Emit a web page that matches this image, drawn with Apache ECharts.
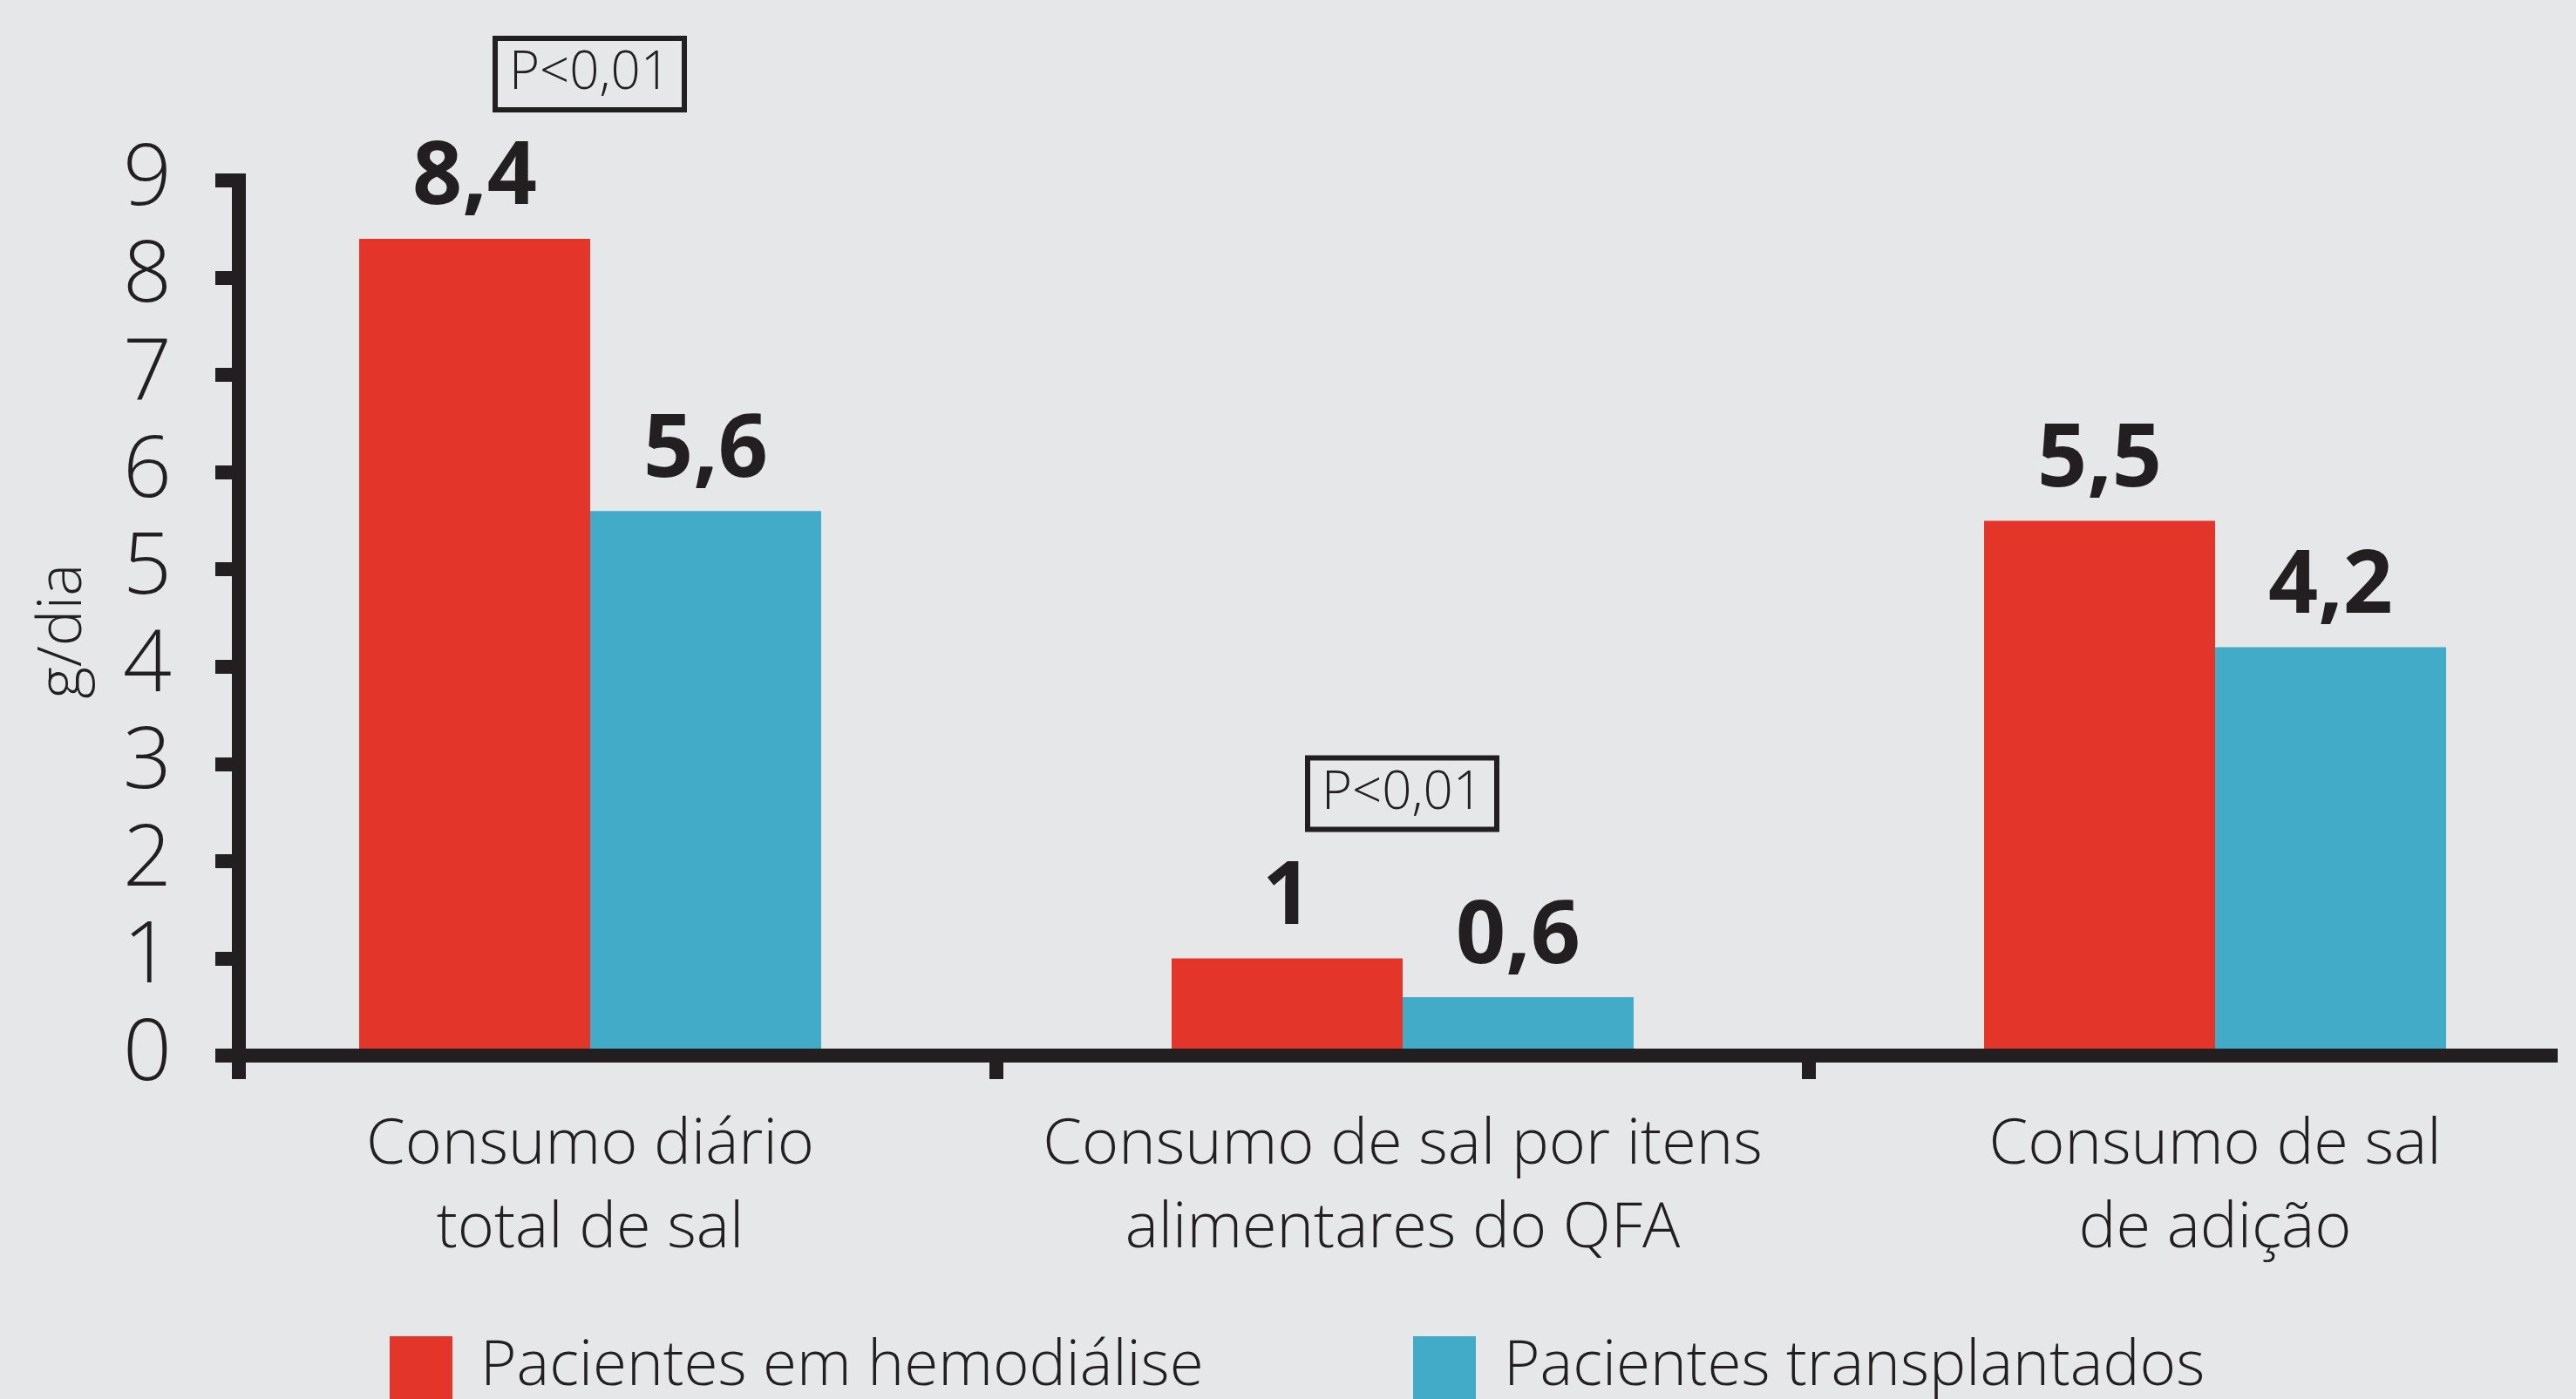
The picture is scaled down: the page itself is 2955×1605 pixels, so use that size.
<!DOCTYPE html>
<html>
<head>
<meta charset="utf-8">
<script src="https://cdn.jsdelivr.net/npm/echarts@6/dist/echarts.min.js"></script>
<style>
html, body { margin: 0; padding: 0; background: #E6E7E8; }
#chart { width: 2955px; height: 1605px; }
</style>
</head>
<body>
<div id="chart"></div>
<script>
// ---- data ----
const categories = [
  'Consumo diário\ntotal de sal',
  'Consumo de sal por itens\nalimentares do QFA',
  'Consumo de sal\nde adição'
];
const seriesNames = ['Pacientes em hemodiálise', 'Pacientes transplantados'];
const hemodialise = [8.4, 1, 5.5];
const transplantados = [5.6, 0.6, 4.2];
const pValueLabels = ['P<0,01', 'P<0,01', ''];
const yMin = 0, yMax = 9, yInterval = 1;

// ---- styles ----
const DARK = '#231F20';
const RED = '#E4352B';
const BLUE = '#42ABC8';
const FONT = 'Open Sans';

const fmt = v => String(v).replace('.', ',');

const pMarks = [];
pValueLabels.forEach((p, i) => {
  if (p) pMarks.push({ coord: [i, hemodialise[i]], value: p });
});

const legendText = { fontFamily: FONT, fontSize: 71, fontWeight: 300, color: DARK, lineHeight: 72, padding: [0, 0, 0, 27] };

const chart = echarts.init(document.getElementById('chart'), null, { renderer: 'canvas' });
chart.setOption({
  backgroundColor: '#E6E7E8',
  animation: false,
  textStyle: { fontFamily: FONT, color: DARK },
  grid: [
    { left: 211, right: -52, top: 207, bottom: 394, outerBoundsMode: 'none', containLabel: false },
    { left: 274, right: 29, top: 207, bottom: 394, outerBoundsMode: 'none', containLabel: false }
  ],
  legend: [
    {
      data: [seriesNames[0]], left: 447, top: 1533, padding: 0,
      icon: 'rect', itemWidth: 72, itemHeight: 72, textStyle: legendText
    },
    {
      data: [seriesNames[1]], left: 1621, top: 1533, padding: 0,
      icon: 'rect', itemWidth: 72, itemHeight: 72, textStyle: legendText
    }
  ],
  xAxis: [
    {
      type: 'category', gridIndex: 0, data: categories,
      axisLine: { show: false },
      axisTick: { show: true, interval: (i) => i > 0, length: 27, lineStyle: { color: DARK, width: 16 } },
      axisLabel: {
        interval: 0, margin: 55, fontFamily: FONT, fontSize: 72, fontWeight: 300,
        lineHeight: 96, color: DARK, align: 'center'
      },
      splitLine: { show: false }
    },
    {
      type: 'value', gridIndex: 1, min: 0, max: 1, z: 5,
      axisLine: { show: true, lineStyle: { color: DARK, width: 16, cap: 'square' } },
      axisTick: { show: true, customValues: [0], length: 27, lineStyle: { color: DARK, width: 16 } },
      axisLabel: { show: false },
      splitLine: { show: false }
    }
  ],
  yAxis: [
    { type: 'value', gridIndex: 0, min: yMin, max: yMax, interval: yInterval, show: false },
    {
      type: 'value', gridIndex: 1, min: yMin, max: yMax, interval: yInterval, z: 5,
      name: 'g/dia', nameLocation: 'middle', nameGap: 166,
      nameTextStyle: { fontFamily: FONT, fontSize: 70, fontWeight: 300, color: DARK, padding: [0, 30, 0, 0] },
      axisLine: { show: true, lineStyle: { color: DARK, width: 16, cap: 'square' } },
      axisTick: { show: true, length: 27, lineStyle: { color: DARK, width: 16 } },
      axisLabel: { margin: 77, fontFamily: FONT, fontSize: 98, fontWeight: 300, color: DARK },
      splitLine: { show: false }
    }
  ],
  series: [
    {
      name: seriesNames[0], type: 'bar', xAxisIndex: 0, yAxisIndex: 0,
      data: hemodialise, barWidth: 265, barGap: '0%',
      itemStyle: { color: RED },
      label: {
        show: true, position: 'top', distance: 18, formatter: p => fmt(p.value),
        fontFamily: FONT, fontSize: 100, fontWeight: 'bold', color: DARK
      },
      markPoint: {
        symbol: 'rect', symbolSize: 1,
        itemStyle: { color: 'rgba(0,0,0,0)' },
        label: {
          show: true, position: 'inside', offset: [132, -189],
          formatter: p => p.value,
          fontFamily: FONT, fontSize: 60, fontWeight: 300, color: DARK,
          lineHeight: 60, borderColor: DARK, borderWidth: 6, padding: [11, 16, 11, 16]
        },
        data: pMarks
      }
    },
    {
      name: seriesNames[1], type: 'bar', xAxisIndex: 0, yAxisIndex: 0,
      data: transplantados, barWidth: 265, barGap: '0%',
      itemStyle: { color: BLUE },
      label: {
        show: true, position: 'top', distance: 18, formatter: p => fmt(p.value),
        fontFamily: FONT, fontSize: 100, fontWeight: 'bold', color: DARK
      }
    }
  ]
});
</script>
</body>
</html>
